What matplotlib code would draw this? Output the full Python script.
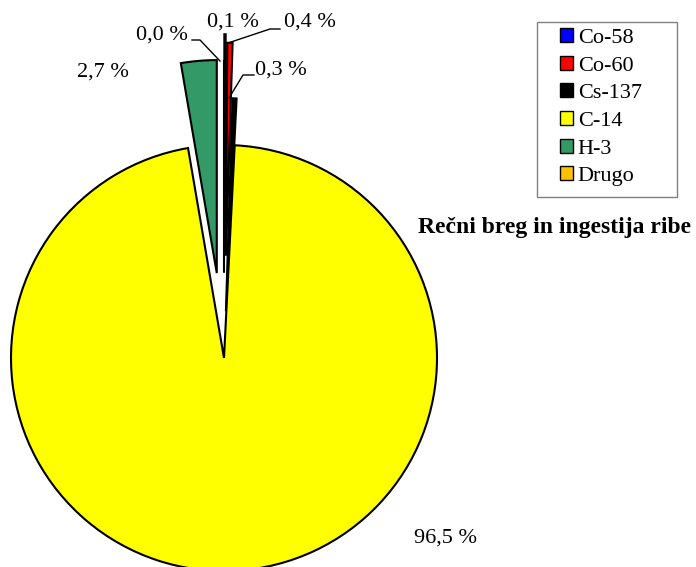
import matplotlib.pyplot as plt
from matplotlib.patches import Patch, Rectangle

# podatki (delež doze po radionuklidih)
nuklidi = ['Co-58', 'Co-60', 'Cs-137', 'C-14', 'H-3', 'Drugo']
delezi = [0.1, 0.4, 0.3, 96.5, 2.7, 0.0]
oznake = ['0,1 %', '0,4 %', '0,3 %', '96,5 %', '2,7 %', '0,0 %']
barve = ['#0000FF', '#FF0000', '#000000', '#FFFF00', '#339966', '#FFC000']
razmik = [0.52, 0.48, 0.22, 0.0, 0.40, 0.40]

plt.rcParams['font.family'] = ['Liberation Serif', 'DejaVu Serif']

fig = plt.figure(figsize=(6.96, 5.67), dpi=100)
ax = fig.add_axes([0, 0, 1, 1])

r = 213
# explode je v matplotlibu v enotah podatkov, zato * r
ax.pie(delezi, colors=barve, explode=[e * r for e in razmik], startangle=90,
       counterclock=False, radius=r, center=(224, 209), frame=True,
       wedgeprops=dict(edgecolor='black', linewidth=1.5))
ax.set_xlim(0, 696)
ax.set_ylim(0, 567)
ax.set_aspect('equal')
ax.axis('off')

fs = 16
# oznake
ax.text(162, 532, oznake[5], fontsize=fs, ha='center', va='center')
ax.text(233, 545, oznake[0], fontsize=fs, ha='center', va='center')
ax.text(310, 545, oznake[1], fontsize=fs, ha='center', va='center')
ax.text(281, 497, oznake[2], fontsize=fs, ha='center', va='center')
ax.text(103, 495, oznake[4], fontsize=fs, ha='center', va='center')
ax.text(446, 29, oznake[3], fontsize=fs, ha='center', va='center')

# vodila
ax.plot([192, 200, 220], [527, 527, 506], color='black', lw=1)
ax.plot([280, 270, 228], [538, 538, 524], color='black', lw=1)
ax.plot([254, 243, 229], [492, 492, 469], color='black', lw=1)

# naslov
ax.text(555, 340, 'Rečni breg in ingestija ribe', fontsize=17, fontweight='bold',
        ha='center', va='center')

# legenda
rocaji = [Patch(facecolor=c, edgecolor='black', linewidth=1) for c in barve]
leg = ax.legend(rocaji, nuklidi, loc='upper left', bbox_to_anchor=(560 / 696, 1 - 28 / 567),
                frameon=False, fontsize=fs, handlelength=0.6, handleheight=0.6,
                handletextpad=0.2, labelspacing=0.35, borderpad=0, borderaxespad=0)
ax.add_patch(Rectangle((537, 567 - 197), 140, 175, fill=False, edgecolor='#808080', lw=1))

fig.savefig('out.png', dpi=100)
